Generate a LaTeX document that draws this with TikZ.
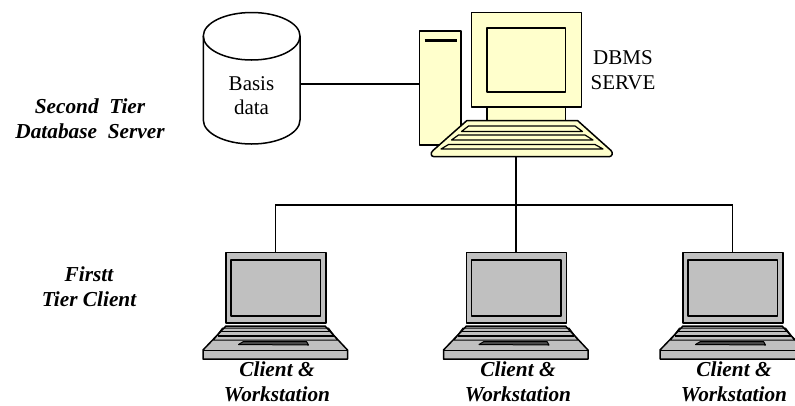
\documentclass[tikz,border=0pt]{standalone}
\usepackage{fontspec}
\setmainfont{Liberation Serif}
\definecolor{yellowpale}{RGB}{255,255,204}
\definecolor{lapgrey}{RGB}{192,192,192}
\tikzset{
  x=1pt,y=-1pt,
  ln/.style={draw=black,line width=1.5pt,line join=round},
  thin ln/.style={draw=black,line width=1pt,line join=round},
  cream/.style={fill=yellowpale},
  grey/.style={fill=lapgrey},
  wire/.style={draw=black,line width=1.4pt},
  plain/.style={font=\fontsize{21}{24.5}\selectfont,align=center,inner sep=0pt},
  tier/.style={font=\fontsize{21.3}{24.5}\bfseries\itshape\selectfont,align=center,inner sep=0pt},
}
\newcommand{\lappic}[1]{%
  \begin{scope}[shift={(#1,0)}]
    \path[ln,grey] (-49.5,326) -- (49.5,326) -- (72,350) -- (72,359) -- (-72.5,359) -- (-72.5,350) -- cycle;
    \draw[thin ln] (-72.5,350) -- (72,350);
    \draw[thin ln,fill=black!70] (-37,344.5) -- (-32,341.5) -- (31,341.5) -- (33,345) -- cycle;
    \draw[thin ln] (-53,328) -- (53,328) -- (62,340) -- (-62,340) -- cycle;
    \draw[line width=1.5pt] (-55,331.5) -- (55,331.5) (-58,336) -- (58,336);
    \path[ln,grey] (-49.5,252.7) rectangle (50.5,323);
    \path[ln,grey] (-44.5,260) rectangle (45,316);
  \end{scope}}
\begin{document}
\begin{tikzpicture}
\useasboundingbox (0,0) rectangle (795,405);
% database
\path[ln,fill=white] (203.3,36) -- (203.3,120) arc[start angle=180,end angle=0,x radius=48.35,y radius=24] -- (300,36)
   arc[start angle=0,end angle=-180,x radius=48.35,y radius=23.5] -- cycle;
\draw[ln] (203.3,36) arc[start angle=180,end angle=0,x radius=48.35,y radius=24];
\node[plain] (dbtext) at (251.5,95.5) {Basis\\data};
\coordinate (dbedge) at (300,84);
% tower
\path[ln,cream] (419.3,31) rectangle (461,145);
\draw[line width=3pt] (424.5,40.7) -- (456.5,40.7);
\coordinate (toweredge) at (419.3,84);
\draw[wire] (dbedge) -- (toweredge);
% monitor
\path[ln,cream] (487,107) rectangle (565.5,121);
\path[ln,cream] (471.7,12.7) rectangle (581.7,107);
\path[ln,cream] (487,28) rectangle (565.7,92);
% keyboard
\path[ln,cream] (466.7,120.7) -- (577.7,120.7) -- (611,150.5)
  .. controls (613.5,153) and (612,156.7) .. (609,156.7)
  -- (434,156.7) .. controls (431,156.7) and (430,153) .. (433,150.5) -- cycle;
\foreach \ya/\yb/\xa/\xb/\xc/\xd in {126/131.5/468.5/575/582.5/461.5,135/140/458.5/585/593/451.5,144.5/149/448.5/595/603/441}{
  \path[thin ln,line width=1.2pt,cream] (\xa,\ya) -- (\xb,\ya) -- (\xc,\yb) -- (\xd,\yb) -- cycle;
}
\coordinate (kbedge) at (516,156.7);
% laptops
\lappic{275.5}
\lappic{516}
\lappic{732.5}
\coordinate (lap1) at (275.5,252.7);
\coordinate (lap2) at (516,252.7);
\coordinate (lap3) at (732.5,252.7);
\coordinate (bus) at (516,205);
\draw[wire] (kbedge) -- (lap2);
\draw[wire] (lap1) |- (bus) -| (lap3);
% labels
\node[plain] (dbms) at (623,70) {DBMS\\SERVE};
\node[tier] (second) at (90,118.5) {Second\ \ Tier\\Database\ \ Server};
\node[tier] (first) at (89,286.5) {Firstt\\Tier Client};
\node[tier] (c1) at (277,382) {Client \&\\Workstation};
\node[tier] (c2) at (518,382) {Client \&\\Workstation};
\node[tier] (c3) at (734,382) {Client \&\\Workstation};
\end{tikzpicture}
\end{document}
